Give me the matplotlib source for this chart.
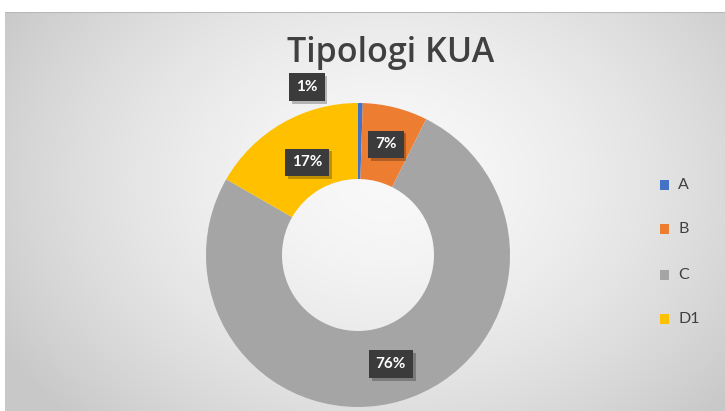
import numpy as np
import matplotlib
matplotlib.use("Agg")
import matplotlib.pyplot as plt
import matplotlib.patheffects as pe

categories = ["A", "B", "C", "D1"]
values = [0.5, 6.9, 75.9, 16.7]
colors = ["#4472C4", "#ED7D31", "#A5A5A5", "#FFC000"]
title = "Tipologi KUA"

W, H = 725, 411
fig = plt.figure(figsize=(W / 100, H / 100), dpi=100)
fig.patch.set_facecolor("white")

# gradient background box
bg = fig.add_axes([5 / W, 0, 1 - 5 / W, 1 - 12 / H])
bg.set_axis_off()
ny, nx = 200, 360
yy, xx = np.mgrid[0:ny, 0:nx]
cx, cy = nx * 0.53, ny * 0.42
d = np.sqrt(((xx - cx) / (nx * 0.62)) ** 2 + ((yy - cy) / (ny * 0.85)) ** 2)
d = np.clip(d, 0, 1)
g = 0.975 - 0.19 * d ** 1.6
img = np.dstack([g, g, g])
bg.imshow(img, aspect="auto", extent=[0, 1, 0, 1], origin="upper")
bg.set_xlim(0, 1)
bg.set_ylim(0, 1)
bg.plot([0, 1], [1, 1], color="#b8b8b8", lw=1.5)

# donut
cxp, cyp, R = 358, 255, 152
ax = fig.add_axes([(cxp - R) / W, (H - cyp - R) / H, 2 * R / W, 2 * R / H])
ax.set_facecolor("none")
wedges, _ = ax.pie(values, colors=colors, startangle=90, counterclock=False,
                   radius=1, wedgeprops=dict(width=0.5, edgecolor="none"))
ax.set_xlim(-1, 1)
ax.set_ylim(-1, 1)
ax.set_aspect("equal")
ax.set_axis_off()

total = sum(values)
for i, w in enumerate(wedges):
    ang = np.deg2rad((w.theta1 + w.theta2) / 2)
    r = 0.75
    x, y = r * np.cos(ang), r * np.sin(ang)
    if categories[i] == "A":
        x, y = -0.335, 1.105
    if categories[i] == "D1":
        x, y = x + 0.04, y - 0.04
    pct = f"{int(np.floor(values[i] / total * 100 + 0.5))}%"
    t = ax.text(x, y, pct, ha="center", va="center", color="white",
                fontsize=11, fontweight="bold", family="Lato",
                bbox=dict(boxstyle="square,pad=0.45", fc="#3b3b3b", ec="none"),
                clip_on=False, zorder=5)
    t.get_bbox_patch().set_path_effects([
        pe.withSimplePatchShadow(offset=(2, -2), shadow_rgbFace="black", alpha=0.25)])

fig.text(391 / W, 1 - 53 / H, title, ha="center", va="center", fontsize=24.5,
         color="#404040", family="Open Sans", fontweight="semibold")

# legend
leg_y = [185, 229, 275, 319]
for c, lab, yp in zip(colors, categories, leg_y):
    fig.patches.append(plt.Rectangle(((664 - 4) / W, 1 - (yp + 5) / H), 9 / W, 10 / H,
                                     transform=fig.transFigure, fc=c, ec="none"))
    fig.text(678 / W, 1 - yp / H, lab, ha="left", va="center", fontsize=11.5,
             color="#404040", family="Lato")

fig.savefig("out.png", dpi=100)
